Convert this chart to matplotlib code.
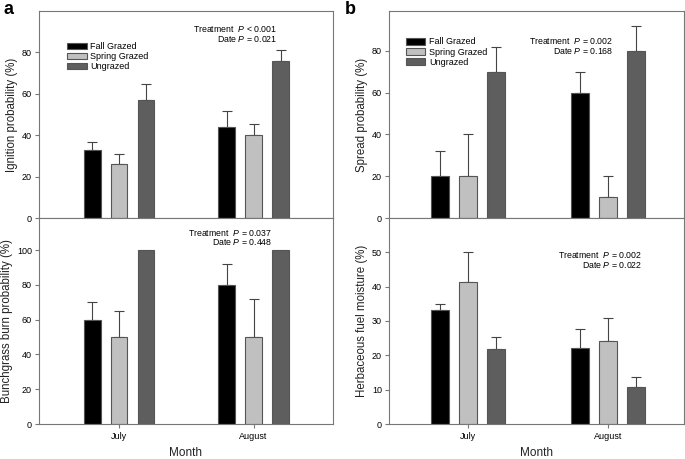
import numpy as np
import matplotlib
matplotlib.use("Agg")
import matplotlib.pyplot as plt

plt.rcParams['font.family'] = ['Liberation Sans', 'DejaVu Sans']
plt.rcParams['mathtext.fontset'] = 'custom'
plt.rcParams['mathtext.it'] = 'Liberation Sans:italic'
plt.rcParams['mathtext.rm'] = 'Liberation Sans'

months = ['July', 'August']
treatments = ['Fall Grazed', 'Spring Grazed', 'Ungrazed']
colors = ['#000000', '#c0c0c0', '#5e5e5e']

# values [treatment][month], and top of error bar (nan = none)
ignition = [[33, 44], [26, 40], [57, 76]]
ignition_err = [[36.6, 51.7], [31, 45.4], [64.6, 81.2]]
bunch = [[60, 80], [50, 50], [100, 100]]
bunch_err = [[70, 92], [65, 72], [np.nan, np.nan]]
spread = [[20, 60], [20, 10], [70, 80]]
spread_err = [[32, 70], [40, 20], [82, 92]]
moisture = [[33.1, 22.0], [41.5, 24.1], [21.7, 10.7]]
moisture_err = [[35.0, 27.6], [50.0, 30.8], [25.4, 13.8]]

fig = plt.figure(figsize=(6.85, 4.59), dpi=100)
W, H = 685, 459

def px_axes(x0, y0, x1, y1):
    return fig.add_axes([x0 / W, (H - y1) / H, (x1 - x0) / W, (y1 - y0) / H])

edge = '#555555'
frame = '#777777'
offsets = [-0.2, 0.0, 0.2]
bw = 0.125

def draw(ax, vals, errs, ylim, yticks, ylabel, xlim, bottom):
    x = np.arange(len(months))
    for i in range(3):
        ax.bar(x + offsets[i], vals[i], bw, color=colors[i], edgecolor=edge,
               linewidth=0.8, label=treatments[i], zorder=2)
        for j in range(len(months)):
            if not np.isnan(errs[i][j]):
                ax.errorbar(x[j] + offsets[i], vals[i][j],
                            yerr=[[0], [errs[i][j] - vals[i][j]]],
                            fmt='none', ecolor='#444444', elinewidth=0.8,
                            capsize=3.5, capthick=0.8, zorder=1)
    ax.set_xlim(*xlim)
    ax.set_ylim(*ylim)
    ax.set_yticks(yticks)
    ax.set_ylabel(ylabel, fontsize=8.3, color='#222222', labelpad=3)
    ax.tick_params(axis='y', labelsize=6.5, direction='out', length=3,
                   color=frame, pad=2)
    for s in ax.spines.values():
        s.set_color(frame)
        s.set_linewidth(0.8)
    if bottom:
        ax.set_xticks(x)
        ax.set_xticklabels(months)
        ax.tick_params(axis='x', labelsize=6.5, direction='out', length=3,
                       color=frame, pad=3)
        ax.set_xlabel('Month', fontsize=8.5, labelpad=4, color='#222222')
    else:
        ax.set_xticks([])

def ptext(xr, y1, y2, t, d):
    fig.text(xr / W, 1 - y1 / H, 'Treatment  $\\it{P}$ ' + t,
             ha='right', va='center', fontsize=6.3)
    fig.text(xr / W, 1 - y2 / H, 'Date $\\it{P}$ = ' + d,
             ha='right', va='center', fontsize=6.3)

def legend(ax, x, y):
    ax.legend(loc='upper left', bbox_to_anchor=(x / W, 1 - y / H),
              bbox_transform=fig.transFigure, frameon=False, fontsize=6.5,
              handlelength=2.2, handleheight=0.7, labelspacing=0.12,
              borderaxespad=0, borderpad=0, handletextpad=0.4)

xl_left = (-0.595, 1.59)
xl_right = (-0.564, 1.543)

ax1 = px_axes(39, 11, 333, 218)
draw(ax1, ignition, ignition_err, (0, 100), [0, 20, 40, 60, 80],
     'Ignition probability (%)', xl_left, False)
legend(ax1, 67, 42)
ptext(277, 29, 38.5, '< 0.001', '0.021')

ax2 = px_axes(39, 218, 333, 424)
draw(ax2, bunch, bunch_err, (0, 118.5), [0, 20, 40, 60, 80, 100],
     'Bunchgrass burn probability (%)', xl_left, True)
ptext(272, 232.7, 242.3, '= 0.037', '0.448')

ax3 = px_axes(389, 11, 684, 218)
draw(ax3, spread, spread_err, (0, 99), [0, 20, 40, 60, 80],
     'Spread probability (%)', xl_right, False)
legend(ax3, 405.5, 37.5)
ptext(613, 41.5, 50.5, '= 0.002', '0.168')

ax4 = px_axes(389, 218, 684, 424)
draw(ax4, moisture, moisture_err, (0, 60), [0, 10, 20, 30, 40, 50],
     'Herbaceous fuel moisture (%)', xl_right, True)
ptext(642, 255, 264.5, '= 0.002', '0.022')

fig.text(3 / W, 1 - 10 / H, 'a', fontsize=13, fontweight='bold', va='center')
fig.text(345 / W, 1 - 10 / H, 'b', fontsize=13, fontweight='bold', va='center')

fig.savefig('out.png', dpi=100)
